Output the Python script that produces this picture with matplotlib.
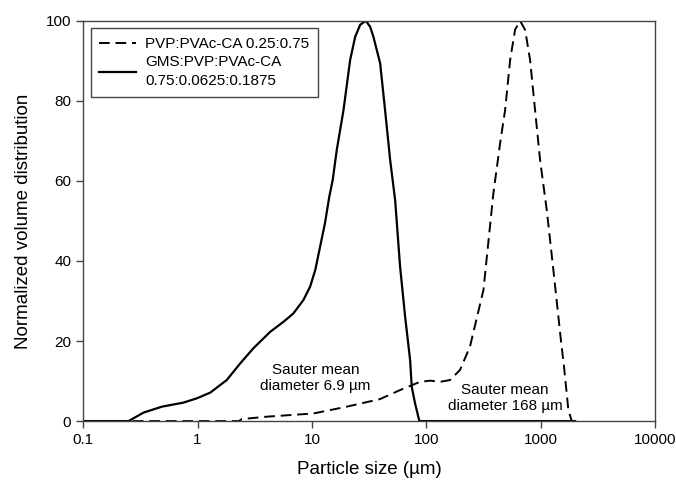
import numpy as np
import matplotlib
matplotlib.use("Agg")
import matplotlib.pyplot as plt
from matplotlib.ticker import FixedLocator, NullLocator

plt.rcParams['font.family'] = ['Liberation Sans', 'DejaVu Sans']

# PVP:PVAc-CA 0.25:0.75 (dashed)
dash_x = [0.1, 2.3, 2.44, 4.04, 10.3, 20.2, 39.5, 59, 88, 108, 132, 161, 197, 241,
          316, 386, 442, 489, 541, 597, 661, 731, 808, 893, 988, 1130, 1282,
          1506, 1600, 1747, 1870, 2000]
dash_y = [0, 0, 0.5, 1.1, 1.9, 3.6, 5.5, 7.75, 9.8, 10.1, 9.8, 10.25, 12.75, 18.6,
          32.75, 56.9, 69.4, 77.75, 90.25, 97.75, 100, 97.75, 90.25, 77.75, 65.25, 52.75, 38.6,
          20, 13.6, 2.75, 0, 0]

# GMS:PVP:PVAc-CA 0.75:0.0625:0.1875 (solid)
solid_x = [0.1, 0.25, 0.336, 0.488, 0.75, 0.99, 1.29, 1.80, 2.36, 3.08, 4.32, 5.64,
           6.89, 8.43, 9.65, 10.7, 11.8, 13.0, 14.2, 15.2, 16.5, 18.9, 21.6, 23.9,
           26.4, 29.6, 32.3, 34.5, 39.5, 43.6, 48.3, 53.4, 59.0, 65.3, 72.2, 74.6,
           79.8, 87, 2000]
solid_y = [0, 0, 2.1, 3.6, 4.6, 5.7, 7.1, 10.25, 14.4, 18.2, 22.3, 24.8,
           26.9, 30.25, 33.6, 37.75, 43.6, 49.4, 56.1, 60.25, 67.75, 77.75, 90.25, 96,
           99, 100, 98.5, 96, 89.4, 77.75, 65.25, 55.25, 38.6, 26.1, 15.25, 8.6,
           4.4, 0, 0]

xticks = [0.1, 1, 10, 100, 1000, 10000]
xlabels = ['0.1', '1', '10', '100', '1000', '10000']
yticks = [0, 20, 40, 60, 80, 100]

fig = plt.figure(figsize=(6.76, 4.84), dpi=100)
ax = fig.add_axes([0.123, 0.130, 0.846, 0.827])

ax.plot(dash_x, dash_y, color='black', lw=1.4, linestyle=(0, (5.5, 3)),
        label='PVP:PVAc-CA 0.25:0.75')
ax.plot(solid_x, solid_y, color='black', lw=1.6,
        label='GMS:PVP:PVAc-CA\n0.75:0.0625:0.1875')

ax.set_xscale('log')
ax.set_xlim(0.1, 10000)
ax.set_ylim(0, 100)
ax.xaxis.set_major_locator(FixedLocator(xticks))
ax.xaxis.set_minor_locator(NullLocator())
ax.set_xticklabels(xlabels)
ax.set_yticks(yticks)
ax.tick_params(direction='out', length=5, width=1, labelsize=11, color='#444444')

for s in ax.spines.values():
    s.set_color('#444444')
    s.set_linewidth(1)

ax.set_xlabel('Particle size (µm)', fontsize=13.5, labelpad=10)
ax.set_ylabel('Normalized volume distribution', fontsize=13.5, labelpad=10)

ax.text(10.7, 10.75, 'Sauter mean\ndiameter 6.9 µm', ha='center', va='center',
        fontsize=11)
ax.text(489, 5.75, 'Sauter mean\ndiameter 168 µm', ha='center', va='center',
        fontsize=11)

leg = ax.legend(loc='upper left', fontsize=11, fancybox=False, handlelength=2.4,
                handletextpad=0.6, borderaxespad=0.5, framealpha=1,
                labelspacing=0.3, borderpad=0.55)
for t in leg.get_texts():
    t.set_linespacing(1.45)
leg.get_frame().set_edgecolor('#444444')
leg.get_frame().set_linewidth(1)

fig.savefig('out.png', dpi=100)
